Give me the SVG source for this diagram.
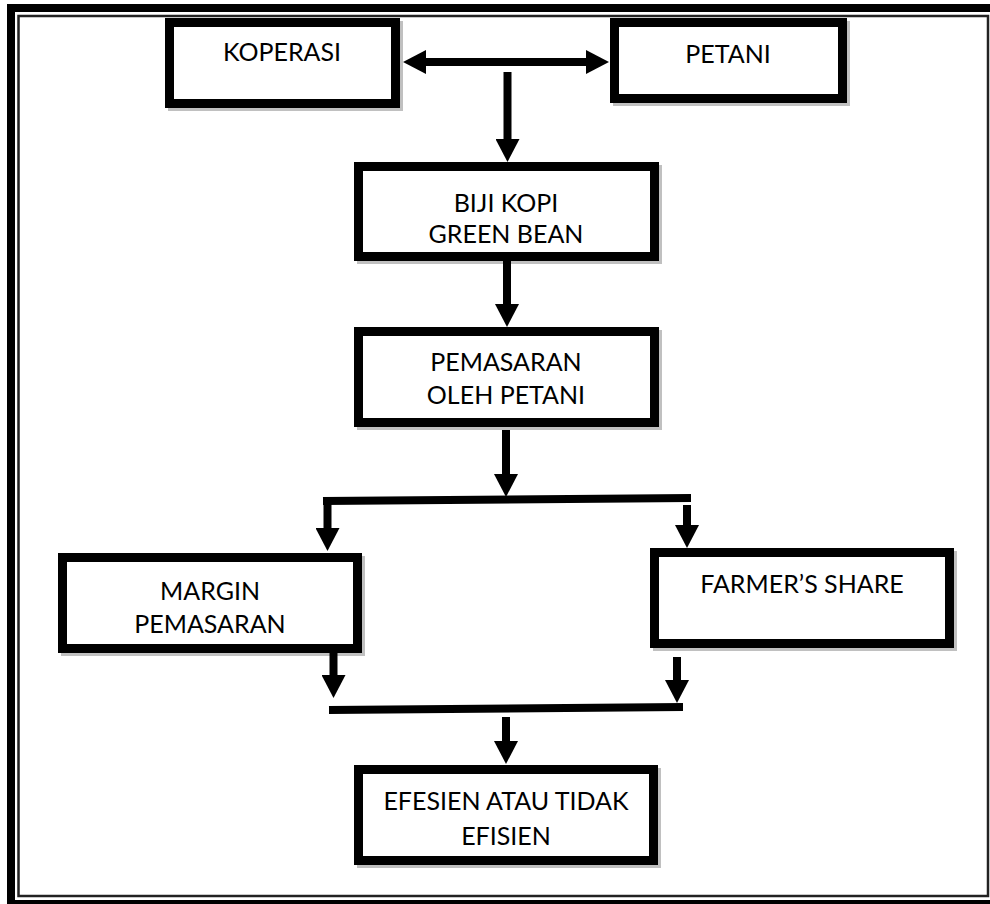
<svg xmlns="http://www.w3.org/2000/svg" width="990" height="904" viewBox="0 0 990 904">
<defs>
<marker id="ah" viewBox="0 0 23 24" refX="1" refY="12" markerWidth="23" markerHeight="24" markerUnits="userSpaceOnUse" orient="auto-start-reverse">
<path d="M0,0 L23,12 L0,24 Z" fill="#000"/>
</marker>
<style>
.box{fill:#fff;stroke:#000;stroke-width:9}
.sh{fill:none;stroke:#c0c0c0;stroke-width:9}
.lbl{font-family:Lato,"Open Sans","Liberation Sans",sans-serif;font-size:25px;fill:#000;text-anchor:middle}
.arr{stroke:#000;stroke-width:8;fill:none;marker-end:url(#ah)}
.ln{stroke:#000;stroke-width:8;fill:none}
</style>
</defs>
<rect width="990" height="904" fill="#fff"/>
<g id="frame">
<rect x="11" y="8" width="984" height="896" fill="none" stroke="#000" stroke-width="8"/>
<rect x="18.5" y="16" width="969.5" height="880" fill="none" stroke="#222" stroke-width="2.5"/>
</g>
<g id="koperasi">
<rect class="sh" x="172.5" y="25.5" width="226" height="81"/>
<rect class="box" x="169.5" y="22.5" width="226" height="81"/>
<text class="lbl" x="282" y="61">KOPERASI</text>
</g>
<g id="petani">
<rect class="sh" x="617.5" y="25.5" width="228" height="76"/>
<rect class="box" x="614.5" y="22.5" width="228" height="76"/>
<text class="lbl" x="728" y="63">PETANI</text>
</g>
<g id="biji">
<rect class="sh" x="361.5" y="169.5" width="296" height="90"/>
<rect class="box" x="358.5" y="166.5" width="296" height="90"/>
<text class="lbl" x="506" y="212">BIJI KOPI</text>
<text class="lbl" x="506" y="243">GREEN BEAN</text>
</g>
<g id="pemasaran">
<rect class="sh" x="361.5" y="334.5" width="296" height="91"/>
<rect class="box" x="358.5" y="331.5" width="296" height="91"/>
<text class="lbl" x="506" y="371">PEMASARAN</text>
<text class="lbl" x="506" y="404">OLEH PETANI</text>
</g>
<g id="margin">
<rect class="sh" x="65.5" y="560.5" width="295" height="91"/>
<rect class="box" x="62.5" y="557.5" width="295" height="91"/>
<text class="lbl" x="210" y="600">MARGIN</text>
<text class="lbl" x="210" y="633">PEMASARAN</text>
</g>
<g id="farmer">
<rect class="sh" x="657.5" y="555.5" width="295" height="91"/>
<rect class="box" x="654.5" y="552.5" width="295" height="91"/>
<text class="lbl" x="802" y="593">FARMER’S SHARE</text>
</g>
<g id="efesien">
<rect class="sh" x="361.5" y="772.5" width="295" height="91"/>
<rect class="box" x="358.5" y="769.5" width="295" height="91"/>
<text class="lbl" x="506" y="810">EFESIEN ATAU TIDAK</text>
<text class="lbl" x="506" y="845">EFISIEN</text>
</g>
<g id="connectors">
<path class="arr" d="M425,62 L587,62" style="marker-start:url(#ah)"/>
<path class="arr" d="M507.5,72 L507.5,140"/>
<path class="arr" d="M507,261 L507,305"/>
<path class="arr" d="M506,430 L506,475"/>
<path class="ln" d="M323,501 L691,498"/>
<path class="arr" d="M327.5,501 L327.5,529"/>
<path class="arr" d="M687,505 L687,526"/>
<path class="arr" d="M333.5,653 L333.5,676"/>
<path class="arr" d="M677,657 L677,681"/>
<path class="ln" d="M329,710 L683,707"/>
<path class="arr" d="M506,717 L506,742"/>
</g>
</svg>
